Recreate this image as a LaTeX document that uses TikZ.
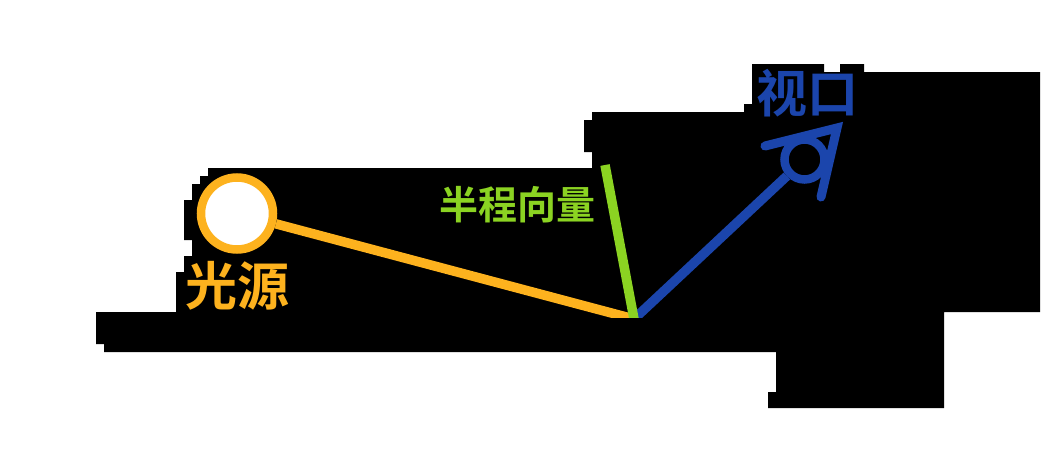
\documentclass[tikz,border=0pt]{standalone}
\usepackage{fontspec}
\setmainfont{Noto Sans CJK SC}[BoldFont={* Bold}]
\definecolor{lightc}{HTML}{FDB21E}
\definecolor{halfc}{HTML}{8BD322}
\definecolor{viewc}{HTML}{1B45AC}
\tikzset{
  ray/.style={line width=9.5pt},
  caption/.style={inner sep=0pt,font=\bfseries},
}
\begin{document}
\begin{tikzpicture}[x=1pt,y=-1pt]
\useasboundingbox (0,0) rectangle (1044,466);
\fill[white] (0,0) rectangle (1044,466);
\fill[black] (752,64)--(824,64)--(824,72)--(840,72)--(840,64)--(864,64)--(864,72)--(1040,72)--(1040,312)--(944,312)--(944,408)--(768,408)--(768,392)--(776,392)--(776,352)--(104,352)--(104,344)--(96,344)--(96,312)--(176,312)--(176,272)--(184,272)--(184,256)--(192,256)--(192,240)--(184,240)--(184,200)--(192,200)--(192,184)--(200,184)--(200,176)--(208,176)--(208,168)--(592,168)--(592,152)--(584,152)--(584,120)--(592,120)--(592,112)--(744,112)--(744,104)--(752,104)--cycle;
\coordinate (hit) at (634,319);
\coordinate (halfend) at (605,165);
\coordinate (tipa) at (765,146);
\coordinate (tipb) at (837,128);
\coordinate (tipc) at (821,197);
\node[circle,draw=lightc,fill=white,line width=8.5pt,minimum size=72pt,inner sep=0pt] (light) at (237,213.5) {};
\node[circle,draw=viewc,line width=8.5pt,minimum size=40pt,inner sep=0pt] (eye) at (804.5,159.5) {};
\begin{scope}
\clip (0,0) rectangle (1044,317.6);
\draw[ray,lightc] (light) -- (hit);
\draw[ray,viewc] (hit) -- (eye);
\draw[ray,halfc] (halfend) -- (hit);
\end{scope}
\draw[line width=9pt,viewc,line cap=round,line join=miter] (tipa) -- (tipb) -- (tipc);
\node[caption,text=lightc,font=\bfseries\fontsize{52}{52}\selectfont] (lightlabel) at (237,286) {光源};
\node[caption,text=halfc,font=\bfseries\fontsize{39}{39}\selectfont] (halflabel) at (517.5,205) {半程向量};
\node[caption,text=viewc,font=\bfseries\fontsize{51}{51}\selectfont] (viewlabel) at (807.5,93) {视口};
\end{tikzpicture}
\end{document}
